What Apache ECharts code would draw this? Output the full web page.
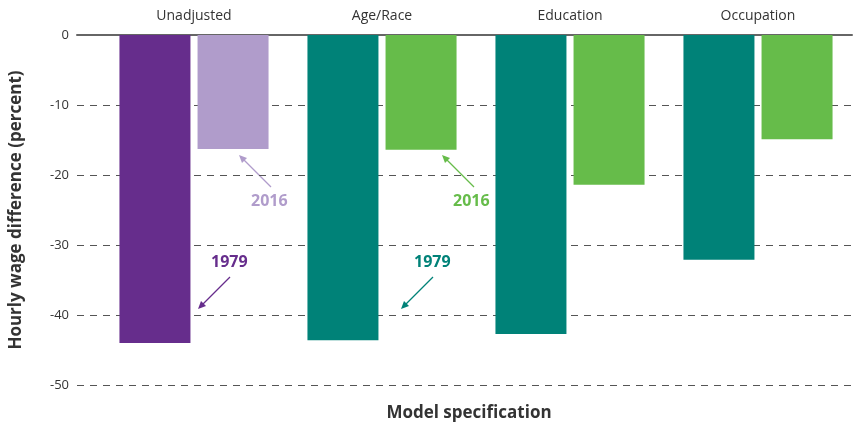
<!DOCTYPE html>
<html lang="en">
<head>
    <meta charset="UTF-8">
    <title>Hourly wage difference</title>
    <script src="https://cdn.jsdelivr.net/npm/echarts@6/dist/echarts.min.js"></script>
    <style>
        html, body { margin: 0; padding: 0; background: #fff; }
        #box { width: 854px; height: 426px; }
    </style>
</head>
<body>
<div id="box"></div>
<script>
    // data
    var categories = ['Unadjusted', 'Age/Race', 'Education', 'Occupation'];
    var values1979 = [-44.0, -43.6, -42.7, -32.1];
    var values2016 = [-16.3, -16.4, -21.4, -14.9];
    var yTicks = [0, -10, -20, -30, -40, -50];

    var purple = '#662d8c', lilac = '#b09ccb', teal = '#008278', green = '#66bc4a';
    var font = '"Open Sans", "Noto Sans", sans-serif';

    var myChart = echarts.init(document.getElementById('box'), null, {renderer: 'canvas'});

    option = {
        animation: false,
        textStyle: {fontFamily: font},
        title: {
            text: 'Model specification',
            left: 464,
            top: 400,
            textAlign: 'center',
            textStyle: {fontSize: 17, fontWeight: 'bold', color: '#333', fontFamily: font}
        },
        grid: [
            {left: 75, right: 2, top: 35, bottom: 41},   // axis + gridlines
            {left: 100, right: 2, top: 35, bottom: 41}   // bars
        ],
        xAxis: [
            {
                gridIndex: 0, type: 'category', position: 'top', data: categories,
                axisLine: {show: true, lineStyle: {color: '#666', width: 2}},
                axisTick: {show: false}, axisLabel: {show: false}
            },
            {
                gridIndex: 1, type: 'category', position: 'top', data: categories,
                axisLine: {show: false}, axisTick: {show: false},
                axisLabel: {color: '#333', fontSize: 14, margin: 12}
            }
        ],
        yAxis: [
            {
                gridIndex: 0, type: 'value', min: -50, max: 0, interval: 10,
                name: 'Hourly wage difference (percent)',
                nameLocation: 'middle', nameGap: 52, nameRotate: 90,
                nameTextStyle: {fontSize: 17, fontWeight: 'bold', color: '#333'},
                axisLine: {show: false}, axisTick: {show: false},
                axisLabel: {
                    color: '#333', fontSize: 13, margin: 8,
                    formatter: function (v) { return yTicks.indexOf(v) >= 0 ? String(v) : ''; }
                },
                splitLine: {show: true, lineStyle: {color: '#555', type: [7, 6], width: 1}}
            },
            {
                gridIndex: 1, type: 'value', min: -50, max: 0, interval: 10, show: false,
                splitLine: {show: false}
            }
        ],
        series: [
            {
                name: '1979', type: 'bar', xAxisIndex: 1, yAxisIndex: 1,
                barWidth: 71, barGap: '10%',
                data: values1979.map(function (v, i) {
                    return {value: v, itemStyle: {color: i === 0 ? purple : teal}};
                })
            },
            {
                name: '2016', type: 'bar', xAxisIndex: 1, yAxisIndex: 1,
                barWidth: 71, barGap: '10%',
                data: values2016.map(function (v, i) {
                    return {value: v, itemStyle: {color: i === 0 ? lilac : green}};
                })
            }
        ],
        graphic: [
            // 2016 labels + arrows
            {type: 'text', left: 251, top: 193, style: {text: '2016', fill: lilac, font: 'bold 16px ' + font}},
            {type: 'line', shape: {x1: 271, y1: 187, x2: 241, y2: 157}, style: {stroke: lilac, lineWidth: 1.3}},
            {type: 'polygon', shape: {points: [[239, 155], [247, 158], [242, 163]]}, style: {fill: lilac}},
            {type: 'text', left: 453, top: 193, style: {text: '2016', fill: green, font: 'bold 16px ' + font}},
            {type: 'line', shape: {x1: 474, y1: 187, x2: 444, y2: 157}, style: {stroke: green, lineWidth: 1.3}},
            {type: 'polygon', shape: {points: [[442, 155], [450, 158], [445, 163]]}, style: {fill: green}},
            // 1979 labels + arrows
            {type: 'text', left: 211, top: 254, style: {text: '1979', fill: purple, font: 'bold 16px ' + font}},
            {type: 'line', shape: {x1: 230, y1: 277, x2: 201, y2: 306}, style: {stroke: purple, lineWidth: 1.3}},
            {type: 'polygon', shape: {points: [[198, 309], [201, 301], [206, 306]]}, style: {fill: purple}},
            {type: 'text', left: 414, top: 254, style: {text: '1979', fill: teal, font: 'bold 16px ' + font}},
            {type: 'line', shape: {x1: 433, y1: 277, x2: 404, y2: 306}, style: {stroke: teal, lineWidth: 1.3}},
            {type: 'polygon', shape: {points: [[401, 309], [404, 301], [409, 306]]}, style: {fill: teal}}
        ]
    };

    myChart.setOption(option);
    window.addEventListener('resize', myChart.resize);
</script>
</body>
</html>
